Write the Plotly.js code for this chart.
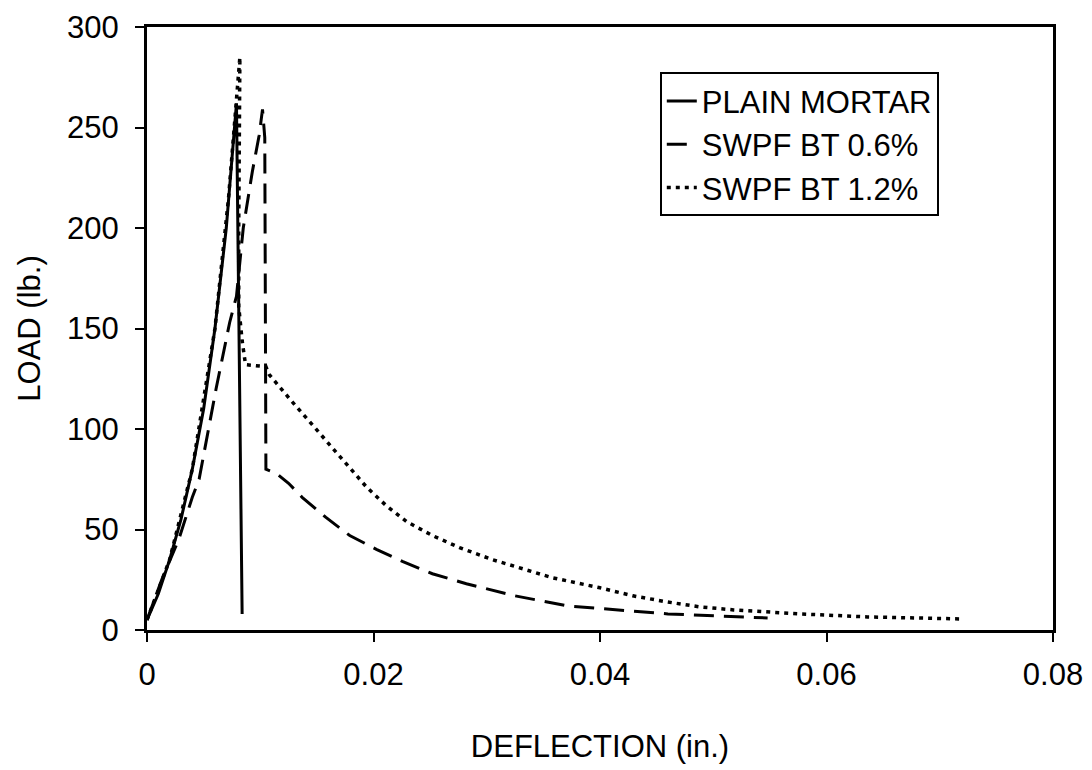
<!DOCTYPE html>
<html>
<head>
<meta charset="utf-8">
<script src="https://cdn.plot.ly/plotly-3.0.1.min.js"></script>
<style>html,body{margin:0;padding:0;background:#fff;}#chart{width:1092px;height:770px;}</style>
</head>
<body>
<div id="chart"></div>
<script>
const seriesNames = ["PLAIN MORTAR", "SWPF BT 0.6%", "SWPF BT 1.2%"];

const plainX = [0, 0.001, 0.002, 0.003, 0.004, 0.005, 0.006, 0.007, 0.0079, 0.0084];
const plainY = [5, 18, 35, 55, 80, 110, 150, 200, 262, 8];

const bt06X = [0, 0.0013, 0.0028, 0.004, 0.0046, 0.0061, 0.0073, 0.0079, 0.0085, 0.0093, 0.0099, 0.0102, 0.0104, 0.0105, 0.0114, 0.0125, 0.0137, 0.0158, 0.0179, 0.0203, 0.0226, 0.0252, 0.0282, 0.0325, 0.0371, 0.046, 0.0548];
const bt06Y = [5, 25, 45, 66, 75, 120, 153, 166, 200, 228, 246, 259, 245, 80, 78, 73, 66, 56, 47, 40, 34, 28, 23, 17, 12, 8, 6];

const bt12X = [0, 0.002, 0.004, 0.006, 0.0072, 0.0082, 0.0081, 0.0081, 0.0084, 0.0087, 0.0105, 0.0108, 0.0126, 0.0143, 0.0158, 0.0176, 0.0194, 0.0211, 0.0229, 0.0252, 0.0276, 0.0305, 0.0335, 0.0358, 0.04, 0.0429, 0.0459, 0.0488, 0.0518, 0.0548, 0.0577, 0.0636, 0.0719];
const bt12Y = [5, 35, 80, 150, 215, 285, 200, 161, 144, 132, 131, 127, 115, 104, 94, 82, 71, 62, 54, 47, 41, 35, 30, 26, 21, 17, 14, 11.5, 10, 9, 8, 6.5, 5.5];

const xTickVals = [0, 0.02, 0.04, 0.06, 0.08];
const xTickText = ["0", "0.02", "0.04", "0.06", "0.08"];
const yTickVals = [0, 50, 100, 150, 200, 250, 300];
const yTickText = ["0", "50", "100", "150", "200", "250", "300"];

const traces = [
  {x: plainX, y: plainY, name: seriesNames[0], mode: "lines", line: {color: "#000", width: 3, dash: "solid"}},
  {x: bt06X, y: bt06Y, name: seriesNames[1], mode: "lines", line: {color: "#000", width: 3, dash: "20px,10px"}},
  {x: bt12X, y: bt12Y, name: seriesNames[2], mode: "lines", line: {color: "#000", width: 3.5, dash: "4px,5px"}}
];

const font = {family: "Liberation Sans, Arial, sans-serif", size: 31, color: "#000"};

const layout = {
  width: 1092, height: 770,
  margin: {l: 147, r: 39, t: 27, b: 140},
  paper_bgcolor: "#fff", plot_bgcolor: "#fff",
  font: font,
  showlegend: true,
  legend: {x: 0.566, y: 0.925, xanchor: "left", yanchor: "top", bgcolor: "#fff", bordercolor: "#000", borderwidth: 2, font: font, tracegroupgap: 0, itemwidth: 30},
  xaxis: {
    range: [0, 0.08], tickvals: xTickVals, ticktext: xTickText,
    showgrid: false, zeroline: false, showline: true, linecolor: "#000", linewidth: 3, mirror: true,
    ticks: "outside", ticklen: 9, tickwidth: 2, tickcolor: "#000",
    ticklabelstandoff: 6,
    tickfont: font,
    title: {text: "DEFLECTION (in.)", font: font, standoff: 45}
  },
  yaxis: {
    range: [0, 300], tickvals: yTickVals, ticktext: yTickText,
    showgrid: false, zeroline: false, showline: true, linecolor: "#000", linewidth: 3, mirror: true,
    ticks: "outside", ticklen: 9, tickwidth: 2, tickcolor: "#000",
    ticklabelstandoff: 10,
    tickfont: font,
    title: {text: "LOAD (lb.)", font: font, standoff: 18}
  }
};

Plotly.newPlot("chart", traces, layout, {staticPlot: true, displayModeBar: false});
</script>
</body>
</html>
